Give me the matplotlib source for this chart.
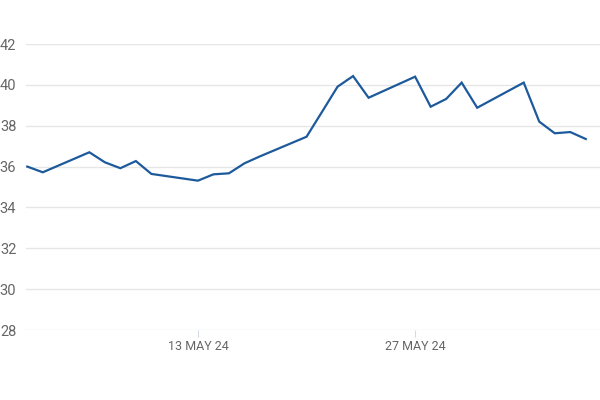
import pandas as pd
import matplotlib
matplotlib.use("Agg")
import matplotlib.pyplot as plt
import matplotlib.dates as mdates

# Cours de clôture (jours ouvrés)
dates = ["2024-05-02", "2024-05-03", "2024-05-06", "2024-05-07", "2024-05-08",
         "2024-05-09", "2024-05-10", "2024-05-13", "2024-05-14", "2024-05-15",
         "2024-05-16", "2024-05-17", "2024-05-20", "2024-05-21", "2024-05-22",
         "2024-05-23", "2024-05-24", "2024-05-27", "2024-05-28", "2024-05-29",
         "2024-05-30", "2024-05-31", "2024-06-03", "2024-06-04", "2024-06-05",
         "2024-06-06", "2024-06-07"]
prices = [36.0, 35.72, 36.70, 36.21, 35.92,
          36.27, 35.64, 35.31, 35.62, 35.67,
          36.16, 36.50, 37.46, 38.68, 39.91,
          40.43, 39.37, 40.40, 38.93, 39.31,
          40.11, 38.88, 40.11, 38.20, 37.63,
          37.69, 37.35]
y_ticks = [28, 30, 32, 34, 36, 38, 40, 42]
x_ticks = ["2024-05-13", "2024-05-27"]

x = pd.to_datetime(dates)

fig = plt.figure(figsize=(6, 4), dpi=100)
ax = fig.add_axes([0.0433, 0.175, 0.9567, 0.715])

ax.plot(x, prices, color="#1d5a9c", linewidth=1.6, solid_joinstyle="miter")

ax.set_ylim(28, 42)
ax.set_xlim(x[0] - pd.Timedelta(hours=2), x[-1] + pd.Timedelta(hours=22))
ax.set_yticks(y_ticks)
ax.set_xticks(pd.to_datetime(x_ticks))
ax.xaxis.set_major_formatter(mdates.DateFormatter("%d %b %y"))
ax.set_xticklabels([d.strftime("%d %b %y").upper() for d in pd.to_datetime(x_ticks)])

ax.grid(axis="y", color="#e6e6e6", linewidth=1)
ax.set_axisbelow(True)
for s in ax.spines.values():
    s.set_visible(False)

ax.tick_params(axis="y", length=0, pad=7, labelsize=10.5, labelcolor="#666666")
ax.tick_params(axis="x", length=5, width=0.8, color="#d5dbe3", pad=2,
               labelsize=9, labelcolor="#666666")
for lab in ax.get_xticklabels() + ax.get_yticklabels():
    lab.set_fontfamily("Roboto")

fig.savefig("out.png", dpi=100)
